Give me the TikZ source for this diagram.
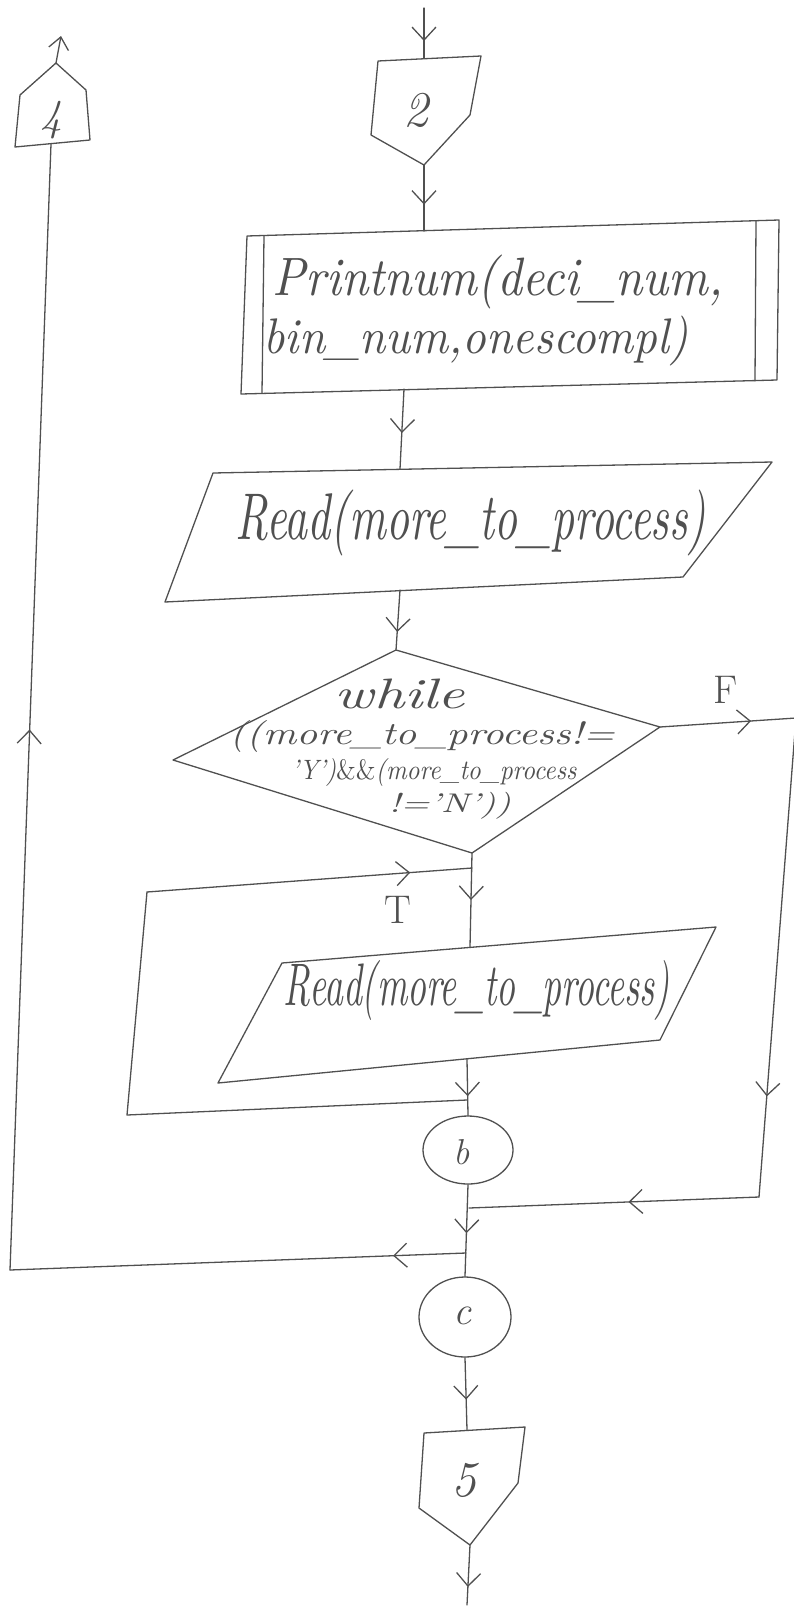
\documentclass[tikz,border=0pt]{standalone}
\usepackage{graphicx}
\usetikzlibrary{arrows.meta,decorations.markings,shapes.geometric}
\definecolor{pencil}{RGB}{80,80,80}
\tikzset{
  ln/.style={draw=pencil,line width=1.3pt,line cap=round,line join=round},
  marr/.style={postaction={decorate,decoration={markings,mark=at position #1 with {\arrow[pencil]{Straight Barb[length=13pt,width=24pt]}}}}},
  lbl/.style={text=pencil,inner sep=0pt,font=\itshape},
  conn/.style={ellipse,draw=pencil,line width=1.3pt,inner sep=0pt,text=pencil},
}
\newcommand{\hw}[3]{\resizebox*{#1}{#2}{#3}}
\begin{document}
\begin{tikzpicture}[x=1pt,y=-1pt]
\useasboundingbox (0,0) rectangle (793,1617);

% ---- off-page connector 4 (left, pointing up)
\draw[ln] (15,147) -- (90,140) -- (86,90) -- (56,63) -- (20,95) -- cycle;
\coordinate (c4b) at (51,144);
\coordinate (c4a) at (56,63);
\coordinate (out4) at (61,36);
\node[lbl,font=\itshape\fontsize{44}{44}\selectfont] (n4) at (51,120) {4};
\draw[ln,-{Straight Barb[length=12pt,width=20pt]}] (c4a) -- (out4);

% ---- off-page connector 2 (top)
\coordinate (top2) at (424,8);
\coordinate (c2t) at (424,58);
\coordinate (c2b) at (424,165);
\draw[ln] (378,61) -- (481,56) -- (470,115) -- (c2b) -- (371,135) -- cycle;
\node[lbl,font=\itshape\fontsize{50}{50}\selectfont] (n2) at (416,110) {2};
\draw[ln,marr=0.66] (top2) -- (c2t);

% ---- Printnum predefined process
\draw[ln] (247,236) -- (779,220) -- (777,380) -- (241,394) -- cycle;
\draw[ln] (264,236) -- (262,393);
\draw[ln] (756,221) -- (755,381);
\coordinate (pt) at (424,231);
\coordinate (pb) at (404,389);
\node[lbl] (p1) at (498,282) {\hw{450pt}{54pt}{Printnum(deci\_num,}};
\node[lbl] (p2) at (476,341) {\hw{425pt}{50pt}{bin\_num,onescompl)}};
\draw[ln,marr=0.6] (c2b) -- (pt);

% ---- Read 1
\draw[ln] (213,473) -- (772,462) -- (683,577) -- (165,602) -- cycle;
\node[lbl] (r1) at (471,523) {\hw{470pt}{66pt}{Read(more\_to\_process)}};
\coordinate (r1t) at (400,469);
\coordinate (r1b) at (400,590);
\draw[ln,marr=0.55] (pb) -- (r1t);

% ---- decision
\coordinate (dt) at (396,650);
\coordinate (dr) at (660,727);
\coordinate (db) at (472,853);
\coordinate (dl) at (173,760);
\draw[ln] (dt) -- (dr) -- (db) -- (dl) -- cycle;
\draw[ln,marr=0.7] (r1b) -- (dt);
\node[lbl] (w1) at (400,694) {\hw{130pt}{30pt}{while}};
\node[lbl] (w2) at (422,736) {\hw{385pt}{32pt}{((more\_to\_process!=}};
\node[lbl] (w3) at (434,772) {\hw{285pt}{28pt}{'Y')\textup{\&\&}(more\_to\_process}};
\node[lbl] (w4) at (450,806) {\hw{122pt}{27pt}{!='N'))}};

% ---- F branch
\coordinate (fr) at (796,718);
\coordinate (fb) at (759,1197);
\coordinate (jf) at (469,1208);
\draw[ln,marr=0.67] (dr) -- (fr);
\node[text=pencil,inner sep=0pt,font=\fontsize{40}{40}\selectfont] (F) at (726,690) {F};
\draw[ln,marr=0.79] (fr) -- (fb);
\draw[ln,marr=0.45] (fb) -- (jf);

% ---- T branch / loop body
\coordinate (r2t) at (470,947);
\draw[ln,marr=0.5] (db) -- (r2t);
\draw[ln] (282,963) -- (716,927) -- (660,1040) -- (218,1083) -- cycle;
\node[lbl] (r2) at (477,990) {\hw{386pt}{60pt}{Read(more\_to\_process)}};
\coordinate (r2b) at (467,1059);
\node[conn,minimum width=90pt,minimum height=68pt] (b) at (468,1150) {};
\node[lbl,font=\itshape\fontsize{36}{36}\selectfont] (bt) at (462,1152) {b};
\draw[ln,marr=0.66] (r2b) -- (b.north);
\coordinate (lp0) at (467,1100);
\coordinate (lp1) at (127,1115);
\coordinate (lp2) at (147,892);
\coordinate (tj) at (472,868);
\draw[ln] (lp0) -- (lp1) -- (lp2);
\draw[ln,marr=0.81] (lp2) -- (tj);
\node[text=pencil,inner sep=0pt,font=\fontsize{40}{40}\selectfont] (T) at (398,910) {T};

% ---- connector c and return to 4
\node[conn,minimum width=92pt,minimum height=80pt] (c) at (465,1317) {};
\node[lbl,font=\itshape\fontsize{40}{40}\selectfont] (ct) at (462,1316) {c};
\draw[ln,marr=0.53] (b.south) -- (c.north);
\coordinate (jl) at (466,1253);
\coordinate (ll) at (10,1270);
\draw[ln,marr=0.16] (jl) -- (ll);
\draw[ln,marr=0.48] (ll) -- (c4b);

% ---- off-page connector 5
\coordinate (c5t) at (467,1430);
\coordinate (c5b) at (470,1545);
\coordinate (out5) at (467,1605);
\draw[ln] (424,1433) -- (525,1427) -- (518,1483) -- (c5b) -- (419,1508) -- cycle;
\node[lbl,font=\itshape\fontsize{50}{50}\selectfont] (n5) at (464,1480) {5};
\draw[ln,marr=0.58] (c.south) -- (c5t);
\draw[ln,marr=0.7] (c5b) -- (out5);
\end{tikzpicture}
\end{document}
